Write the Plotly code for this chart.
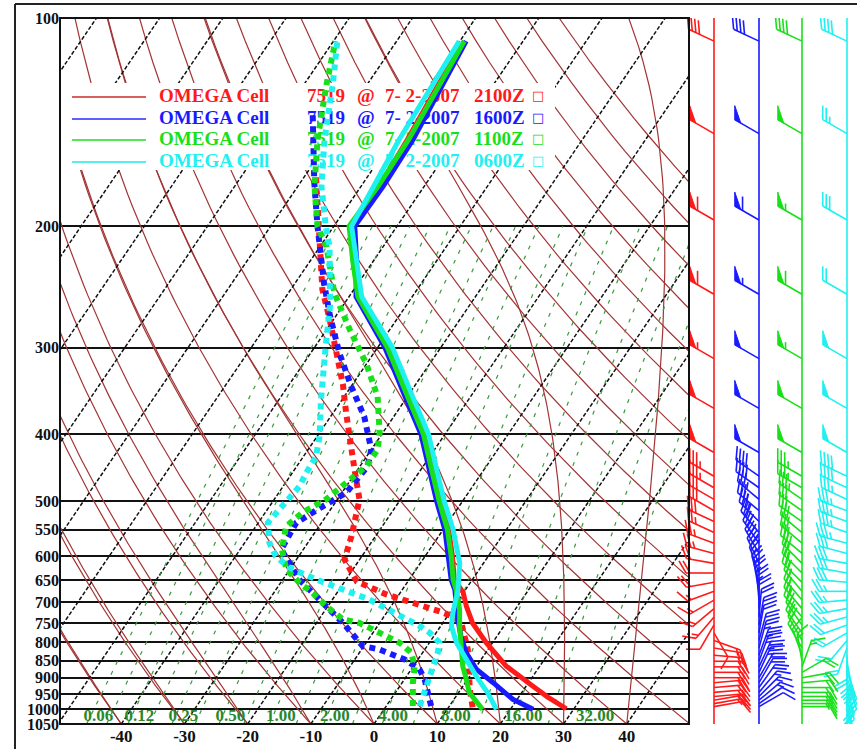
import math
import numpy as np
import plotly.graph_objects as go

# ---------------------------------------------------------------------------
# Sounding data: pressure (hPa) and temperature / dewpoint (deg C)
# ---------------------------------------------------------------------------
RED_T_P = [998, 960, 925, 866, 801, 750, 709, 677, 650, 600, 550, 500, 450, 400, 350, 300, 253, 225, 200, 175, 150, 125, 108]
RED_T = [28.8, 24.6, 21.0, 14.7, 9.0, 4.7, 1.9, -0.1, -2.8, -5.7, -9.1, -13.5, -18.1, -23.2, -30.2, -38.2, -48.5, -52.8, -57.1, -57.1, -57.7, -58.7, -59.3]
BLUE_T_P = [1000, 967, 915, 875, 828, 784, 741, 671, 650, 600, 550, 500, 450, 400, 350, 300, 253, 225, 200, 175, 150, 125, 108]
BLUE_T = [23.6, 19.3, 14.4, 10.3, 6.9, 4.3, 2.0, -1.7, -3.3, -6.3, -9.7, -14.1, -18.7, -23.8, -30.8, -38.8, -48.9, -52.6, -56.7, -56.5, -56.8, -58.0, -59.0]
GREEN_T_P = [1000, 967, 946, 905, 866, 810, 758, 717, 671, 650, 600, 550, 500, 450, 400, 350, 300, 253, 225, 200, 175, 150, 125, 108]
GREEN_T = [15.6, 13.3, 11.7, 9.8, 7.8, 5.4, 3.0, 1.2, -1.5, -3.0, -5.9, -9.3, -13.7, -18.3, -23.4, -30.4, -38.4, -48.6, -53.2, -57.6, -57.3, -57.5, -58.4, -59.3]
CYAN_T_P = [1000, 946, 895, 847, 801, 758, 725, 671, 614, 550, 500, 450, 400, 350, 300, 253, 225, 200, 175, 150, 125, 108]
CYAN_T = [17.8, 14.6, 11.0, 7.6, 4.3, 1.7, 0.5, -1.2, -3.8, -8.4, -12.9, -17.5, -22.6, -29.6, -37.6, -48.0, -52.6, -57.2, -58.0, -59.0, -59.6, -60.1]

RED_TD_P = [993, 935, 819, 753, 736, 724, 701, 682, 653, 607, 562, 497, 450, 407, 372, 339, 307, 273, 247, 216, 196, 169]
RED_TD = [13.8, 11.4, 6.8, 3.1, 1.3, -1.2, -7.0, -12.0, -18.1, -22.4, -23.8, -26.5, -30.5, -34.5, -38.0, -41.5, -45.6, -50.6, -55.0, -59.7, -63.3, -68.3]
BLUE_TD_P = [989, 946, 905, 875, 847, 819, 810, 750, 701, 649, 587, 537, 509, 486, 445, 421, 377, 341, 305, 270, 242, 200, 173, 137]
BLUE_TD = [7.1, 5.1, 3.2, 1.3, -2.1, -7.2, -10.2, -15.8, -21.2, -27.4, -33.5, -34.0, -31.6, -29.3, -28.8, -30.0, -34.7, -40.0, -45.5, -50.9, -55.4, -62.6, -67.8, -75.6]
GREEN_TD_P = [989, 915, 866, 828, 801, 784, 750, 741, 709, 679, 656, 628, 587, 544, 519, 497, 465, 445, 421, 398, 353, 316, 282, 250, 214, 200, 175, 150, 125, 108]
GREEN_TD = [4.2, 1.7, 0.2, -1.8, -4.7, -7.5, -13.2, -16.2, -20.3, -23.8, -27.0, -30.5, -33.4, -35.2, -34.1, -31.8, -29.9, -29.0, -29.0, -30.5, -34.7, -40.1, -46.4, -52.7, -59.0, -62.6, -67.4, -71.9, -76.4, -79.7]
CYAN_TD_P = [989, 946, 905, 866, 828, 801, 775, 758, 741, 725, 694, 671, 649, 624, 601, 574, 537, 514, 486, 476, 455, 431, 403, 357, 299, 261, 214, 200, 175, 150, 125, 108]
CYAN_TD = [5.3, 4.6, 3.7, 3.1, 2.4, 1.6, -1.0, -3.3, -6.2, -9.0, -14.1, -19.4, -24.7, -30.2, -33.6, -36.1, -38.5, -38.1, -37.8, -37.4, -37.8, -38.0, -39.6, -43.3, -48.3, -52.0, -58.5, -61.3, -66.3, -70.8, -75.4, -79.4]

# Wind profiles: pressure (hPa), direction (deg), speed (kt)
BARB_P = [108, 147, 196, 251, 311, 367, 425,
          460, 478, 497, 516, 535, 555, 575, 595, 615, 635, 655, 675, 695, 715, 735, 755,
          775, 795, 815, 835, 852, 868, 884, 900, 915, 930, 945, 958, 970, 981, 991]
RED_DIR = [295, 300, 300, 300, 300, 300, 300,
           300, 300, 300, 300, 295, 295, 290, 285, 280, 270, 260, 250, 240, 230, 220, 210,
           150, 110, 100, 95, 90, 90, 90, 90, 85, 85, 85, 85, 80, 80, 80]
RED_SPD = [40, 50, 60, 60, 55, 50, 50,
           35, 35, 30, 30, 30, 25, 25, 25, 20, 20, 20, 15, 15, 15, 15, 10,
           10, 15, 15, 15, 20, 20, 20, 20, 20, 20, 20, 20, 15, 15, 10]
BLUE_DIR = [295, 300, 300, 300, 300, 300, 300,
            305, 305, 310, 310, 315, 320, 325, 330, 335, 340, 345, 350, 355, 0, 5, 10,
            10, 15, 15, 20, 20, 25, 25, 30, 30, 35, 40, 45, 50, 55, 60]
BLUE_SPD = [40, 50, 60, 55, 50, 50, 50,
            40, 40, 35, 35, 35, 30, 30, 30, 30, 25, 25, 25, 25, 20, 20, 20,
            20, 20, 25, 25, 25, 25, 25, 20, 20, 20, 15, 15, 15, 10, 10]
GREEN_DIR = [295, 300, 300, 300, 300, 300, 300,
             300, 300, 305, 305, 305, 310, 310, 310, 315, 315, 315, 320, 320, 320, 320, 325,
             325, 330, 330, 340, 350, 20, 60, 80, 85, 90, 90, 90, 90, 90, 90]
GREEN_SPD = [40, 50, 55, 60, 55, 50, 50,
             35, 35, 35, 30, 30, 30, 30, 30, 30, 25, 25, 25, 25, 25, 20, 20,
             20, 20, 15, 15, 15, 15, 20, 20, 20, 20, 20, 20, 15, 15, 10]
CYAN_DIR = [295, 300, 300, 300, 300, 300, 300,
            295, 295, 295, 290, 290, 290, 285, 285, 280, 280, 275, 270, 265, 260, 255, 250,
            240, 220, 200, 180, 170, 165, 160, 160, 160, 165, 165, 170, 170, 170, 170]
CYAN_SPD = [40, 25, 30, 20, 50, 50, 50,
            40, 40, 35, 35, 35, 35, 35, 30, 30, 30, 30, 25, 25, 25, 25, 20,
            20, 20, 20, 20, 20, 25, 25, 25, 25, 25, 20, 20, 20, 15, 15]

SERIES_NAMES = ["OMEGA Cell", "OMEGA Cell", "OMEGA Cell", "OMEGA Cell"]
CELL_IDS = ["7519", "7519", "7519", "7519"]
DATES = ["7- 2-2007", "7- 2-2007", "7- 2-2007", "7- 2-2007"]
TIMES = ["2100Z", "1600Z", "1100Z", "0600Z"]

# Reference lines of the diagram
ISOTHERMS = list(range(-130, 51, 10))
DRY_ADIABATS = list(range(-40, 171, 10))     # deg C at 1050 hPa
MOIST_ADIABATS = list(range(-40, 41, 10))    # deg C at 1050 hPa
MIXING_RATIOS = [0.0625, 0.088, 0.125, 0.177, 0.25, 0.354, 0.5, 0.707, 1.0, 1.414,
                 2.0, 2.83, 4.0, 5.66, 8.0, 11.3, 16.0, 22.6, 32.0]
MR_LABEL_VALUES = [0.0625, 0.125, 0.25, 0.5, 1.0, 2.0, 4.0, 8.0, 16.0, 32.0]
MR_LABELS = ["0.06", "0.12", "0.25", "0.50", "1.00", "2.00", "4.00", "8.00", "16.00", "32.00"]
P_TICKS = [100, 200, 300, 400, 500, 550, 600, 650, 700, 750, 800, 850, 900, 950, 1000, 1050]
T_TICKS = [-40, -30, -20, -10, 0, 10, 20, 30, 40, 50]

COLORS = ["#ff1a1a", "#1a1aff", "#18e018", "#1ff0f0"]
BROWN = "#a33434"
MR_GREEN = "#3a9a3a"

# ---------------------------------------------------------------------------
# Geometry of the figure
# ---------------------------------------------------------------------------
FIG_W, FIG_H = 857, 749
M_L, M_R, M_T, M_B = 60, 0, 18, 25
PLOT_W = FIG_W - M_L - M_R
PLOT_H = FIG_H - M_T - M_B
P_BOT, P_TOP = 1050.0, 100.0
X_MIN, X_MAX = -49.7, 49.85
MAIN_RIGHT = 689
SKEW = 74.5                       # deg C of shift per decade of pressure
LOG_SPAN = math.log10(P_BOT) - math.log10(P_TOP)
PX_PER_DECADE = PLOT_H / LOG_SPAN
PX_PER_DEG = (MAIN_RIGHT - M_L) / (X_MAX - X_MIN)
MAIN_DOMAIN = [0.0, (MAIN_RIGHT - M_L) / PLOT_W]
BARB_LEFT = 676                   # barb panel starts a little inside the frame
BARB_DOMAIN = [(BARB_LEFT - M_L) / PLOT_W, 1.0]
BARB_RANGE = [BARB_LEFT, FIG_W]
STAFF_X = [714, 759, 802, 847]


def skew_x(t, p):
    return np.asarray(t, dtype=float) + SKEW * np.log10(P_BOT / np.asarray(p, dtype=float))


def px_to_x(px):
    return X_MIN + (px - M_L) / PX_PER_DEG


def py_to_p(py):
    return P_BOT * 10 ** (-((M_T + PLOT_H) - py) / PX_PER_DECADE)


def paper_x(px):
    return (px - M_L) / PLOT_W


def paper_y(py):
    return ((M_T + PLOT_H) - py) / PLOT_H


def join(segments):
    xs, ys = [], []
    for sx, sy in segments:
        xs += list(sx) + [None]
        ys += list(sy) + [None]
    return xs, ys


fig = go.Figure()

# --- dry adiabats ---
p_curve = np.linspace(P_BOT, P_TOP, 120)
segs = []
for t0 in DRY_ADIABATS:
    tk = (t0 + 273.15) * (p_curve / P_BOT) ** 0.2857 - 273.15
    segs.append((skew_x(tk, p_curve), p_curve))
xs, ys = join(segs)
fig.add_trace(go.Scatter(x=xs, y=ys, mode="lines", hoverinfo="skip",
                         line=dict(color=BROWN, width=1.2)))


# --- saturated (pseudo) adiabats ---
def moist_rate(p, T):
    es = 6.112 * math.exp(17.67 * (T - 273.15) / (T - 29.65))
    rs = 0.622 * es / max(p - es, 1e-3)
    num = 287.04 * T + 2.501e6 * rs
    den = 1005.7 + (2.501e6 ** 2) * rs * 0.622 / (287.04 * T * T)
    return num / den / p


p_moist = np.arange(P_BOT, P_TOP - 0.1, -5.0)
segs = []
for t0 in MOIST_ADIABATS:
    T = t0 + 273.15
    temps = [T]
    for i in range(1, len(p_moist)):
        p = p_moist[i - 1]
        h = p_moist[i] - p
        k1 = moist_rate(p, T)
        k2 = moist_rate(p + h / 2, T + h / 2 * k1)
        k3 = moist_rate(p + h / 2, T + h / 2 * k2)
        k4 = moist_rate(p + h, T + h * k3)
        T = T + h / 6 * (k1 + 2 * k2 + 2 * k3 + k4)
        temps.append(T)
    segs.append((skew_x(np.array(temps) - 273.15, p_moist), p_moist))
xs, ys = join(segs)
fig.add_trace(go.Scatter(x=xs, y=ys, mode="lines", hoverinfo="skip",
                         line=dict(color=BROWN, width=1.2)))

# --- isotherms ---
segs = []
for t in ISOTHERMS:
    pp = np.array([P_BOT, P_TOP])
    segs.append((skew_x([t, t], pp), pp))
xs, ys = join(segs)
fig.add_trace(go.Scatter(x=xs, y=ys, mode="lines", hoverinfo="skip",
                         line=dict(color="#111111", width=1.5, dash="4px,2px")))


# --- mixing ratio lines ---
def dew_from_w(w, p):
    e = w * p / (622.0 + w)
    a = np.log(e / 6.112)
    return 243.5 * a / (17.67 - a)


p_mr = np.linspace(P_BOT, 200.0, 40)
segs = []
for w in MIXING_RATIOS:
    segs.append((skew_x(dew_from_w(w, p_mr), p_mr), p_mr))
xs, ys = join(segs)
fig.add_trace(go.Scatter(x=xs, y=ys, mode="lines", hoverinfo="skip",
                         line=dict(color=MR_GREEN, width=1.2, dash="4px,7px")))

label_p = 1025.0
label_x = [float(skew_x(dew_from_w(w, label_p), label_p)) + 1.3 for w in MR_LABEL_VALUES]
fig.add_trace(go.Scatter(x=label_x, y=[label_p] * len(label_x), mode="text",
                         text=["<b>%s</b>" % s for s in MR_LABELS], hoverinfo="skip",
                         textfont=dict(family="Liberation Serif", size=17, color="#2a882a")))

# --- legend panel (white background, sample lines and text) ---
box_x = [px_to_x(60), px_to_x(555), px_to_x(555), px_to_x(60), px_to_x(60)]
box_p = [py_to_p(83), py_to_p(83), py_to_p(170), py_to_p(170), py_to_p(83)]
fig.add_trace(go.Scatter(x=box_x, y=box_p, mode="lines", fill="toself", fillcolor="white",
                         line=dict(width=0, color="white"), hoverinfo="skip"))

ROW_Y = [97, 119, 140, 162]
LEG_LINE_COLORS = ["#cc2a2a", "#2a2aff", "#22dd22", "#22e8e8"]
for i in range(4):
    yp = py_to_p(ROW_Y[i])
    fig.add_trace(go.Scatter(x=[px_to_x(72), px_to_x(146)], y=[yp, yp], mode="lines",
                             line=dict(color=LEG_LINE_COLORS[i], width=1.6), hoverinfo="skip"))
    parts = [(159, SERIES_NAMES[i]), (307, CELL_IDS[i]), (357, "@"), (385, DATES[i]), (474, TIMES[i])]
    for px, txt in parts:
        fig.add_trace(go.Scatter(x=[px_to_x(px)], y=[yp], mode="text", text=["<b>%s</b>" % txt],
                                 textposition="middle right", hoverinfo="skip",
                                 textfont=dict(family="Liberation Serif", size=19, color=COLORS[i])))
    fig.add_trace(go.Scatter(x=[px_to_x(532)], y=[yp], mode="text", text=["\u25a1"],
                             textposition="middle right", hoverinfo="skip",
                             textfont=dict(family="DejaVu Sans", size=13, color=COLORS[i])))

# --- dewpoint profiles ---
for (pp, td), col in zip([(RED_TD_P, RED_TD), (BLUE_TD_P, BLUE_TD), (GREEN_TD_P, GREEN_TD),
                          (CYAN_TD_P, CYAN_TD)], COLORS):
    fig.add_trace(go.Scatter(x=skew_x(td, pp), y=pp, mode="lines", hoverinfo="skip",
                             line=dict(color=col, width=6, dash="6px,5px")))

# --- temperature profiles ---
for (pp, tt), col in zip([(RED_T_P, RED_T), (BLUE_T_P, BLUE_T), (GREEN_T_P, GREEN_T),
                          (CYAN_T_P, CYAN_T)], COLORS):
    fig.add_trace(go.Scatter(x=skew_x(tt, pp), y=pp, mode="lines", hoverinfo="skip",
                             line=dict(color=col, width=5)))


# --- wind barbs ---
def barb(x0, p0, wdir, wspd, shaft=28.0, flen=14.0, gap=4.0):
    th = math.radians(wdir)
    sx, sy = math.sin(th), math.cos(th)
    qx, qy = sy, -sx
    a = math.radians(30)
    fx = math.cos(a) * qx + math.sin(a) * sx
    fy = math.cos(a) * qy + math.sin(a) * sy

    def pt(dx, dy):
        return (x0 + dx, p0 * 10 ** (-dy / PX_PER_DECADE))

    lines = [[pt(0, 0), pt(sx * shaft, sy * shaft)]]
    polys = []
    spd = int(round(wspd / 5.0)) * 5
    n50, rem = divmod(spd, 50)
    n10, rem = divmod(rem, 10)
    n5 = rem // 5
    d = shaft
    for _ in range(n50):
        polys.append([pt(sx * d, sy * d), pt(sx * d + fx * flen, sy * d + fy * flen),
                      pt(sx * (d - 7), sy * (d - 7)), pt(sx * d, sy * d)])
        d -= 9
    for _ in range(n10):
        lines.append([pt(sx * d, sy * d), pt(sx * d + fx * flen, sy * d + fy * flen)])
        d -= gap
    if n5:
        if spd == 5:
            d -= gap
        lines.append([pt(sx * d, sy * d), pt(sx * d + fx * flen * 0.5, sy * d + fy * flen * 0.5)])
    return lines, polys


winds = [(RED_DIR, RED_SPD), (BLUE_DIR, BLUE_SPD), (GREEN_DIR, GREEN_SPD), (CYAN_DIR, CYAN_SPD)]
# columns are drawn right to left so the leftmost column ends up on top
for (dirs, spds), col, xs0 in list(zip(winds, COLORS, STAFF_X))[::-1]:
    fig.add_trace(go.Scatter(x=[xs0, xs0], y=[P_TOP, P_BOT], mode="lines", xaxis="x2", yaxis="y2",
                             line=dict(color=col, width=1.6), hoverinfo="skip"))
    lx, ly = [], []
    for p0, wd, ws in zip(BARB_P, dirs, spds):
        lines, polys = barb(xs0, p0, wd, ws)
        for seg in lines:
            lx += [q[0] for q in seg] + [None]
            ly += [q[1] for q in seg] + [None]
        # each pennant is its own filled triangle
        for poly in polys:
            fig.add_trace(go.Scatter(x=[q[0] for q in poly], y=[q[1] for q in poly], mode="lines",
                                     xaxis="x2", yaxis="y2", fill="toself", fillcolor=col,
                                     line=dict(color=col, width=1), hoverinfo="skip"))
    fig.add_trace(go.Scatter(x=lx, y=ly, mode="lines", xaxis="x2", yaxis="y2",
                             line=dict(color=col, width=1.6), hoverinfo="skip"))

# ---------------------------------------------------------------------------
# Layout
# ---------------------------------------------------------------------------
tick_font = dict(family="Liberation Serif", size=17, color="#111111")
fig.update_layout(
    width=FIG_W, height=FIG_H,
    margin=dict(l=M_L, r=M_R, t=M_T, b=M_B, pad=0),
    paper_bgcolor="white", plot_bgcolor="rgba(0,0,0,0)",
    showlegend=False,
    xaxis=dict(domain=MAIN_DOMAIN, range=[X_MIN, X_MAX], showgrid=False, zeroline=False,
               tickmode="array", tickvals=T_TICKS, ticktext=["<b>%d</b>" % t for t in T_TICKS],
               tickfont=tick_font, ticks="", showline=False, fixedrange=True),
    yaxis=dict(type="log", range=[math.log10(P_BOT), math.log10(P_TOP)], showgrid=True,
               gridcolor="#111111", gridwidth=1.5, zeroline=False,
               tickmode="array", tickvals=P_TICKS, ticktext=["<b>%d</b>" % p for p in P_TICKS],
               tickfont=dict(family="Liberation Serif", size=16, color="#111111"),
               ticks="", showline=False, fixedrange=True),
    xaxis2=dict(domain=BARB_DOMAIN, range=BARB_RANGE, anchor="y2", showgrid=False,
                zeroline=False, showticklabels=False, ticks="", fixedrange=True),
    yaxis2=dict(type="log", range=[math.log10(P_BOT), math.log10(P_TOP)], anchor="x2",
                showgrid=False, zeroline=False, showticklabels=False, ticks="", fixedrange=True),
    shapes=[
        dict(type="rect", xref="paper", yref="paper", x0=MAIN_DOMAIN[0], x1=MAIN_DOMAIN[1],
             y0=0, y1=1, line=dict(color="#111111", width=2), layer="above"),
        dict(type="line", xref="paper", yref="paper", x0=paper_x(15), x1=paper_x(15),
             y0=paper_y(4), y1=paper_y(760), line=dict(color="#222222", width=2)),
        dict(type="line", xref="paper", yref="paper", x0=paper_x(15), x1=paper_x(870),
             y0=paper_y(4), y1=paper_y(4), line=dict(color="#222222", width=2)),
    ],
)

fig.write_html("out.html")
